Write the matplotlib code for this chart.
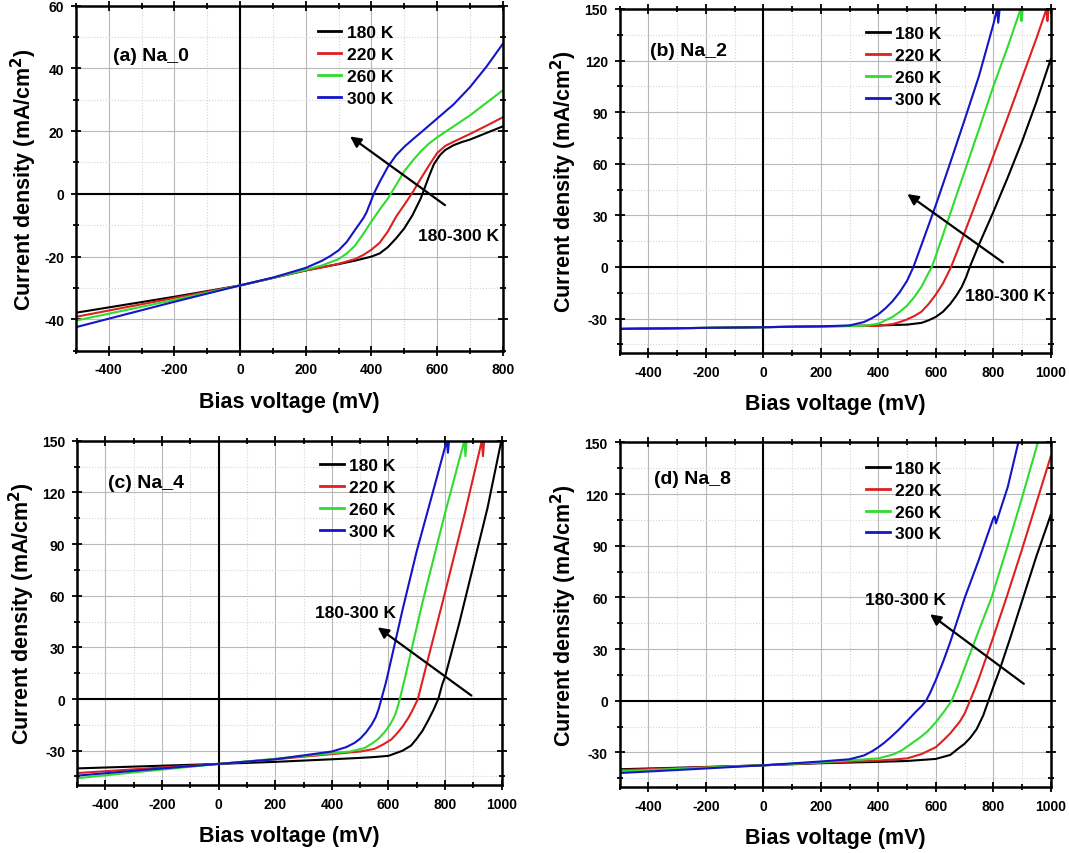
import matplotlib
matplotlib.use("Agg")
import matplotlib.pyplot as plt
from matplotlib.ticker import MultipleLocator

plt.rcParams['font.family'] = ['Liberation Sans', 'DejaVu Sans']
plt.rcParams['font.weight'] = 'bold'
plt.rcParams['axes.labelweight'] = 'bold'
plt.rcParams['axes.unicode_minus'] = False

TEMPS = ['180 K', '220 K', '260 K', '300 K']
COLORS = ['#000000', '#dd2020', '#2fdc2f', '#1414c8']

# ---------------- Panel (a) Na_0 ----------------
A_V_180 = [-500, -400, -300, -200, -100, 0, 100, 200, 250, 300, 350, 400, 425, 450, 475, 500, 525, 550, 575, 590, 600, 610, 625, 650, 675, 700, 750, 800]
A_J_180 = [-37.9, -36.2, -34.5, -32.8, -31.0, -29.2, -26.8, -24.4, -23.4, -22.4, -21.3, -20.0, -19.0, -17.0, -14.2, -11.0, -6.8, -1.5, 5.5, 9.4, 11.0, 12.5, 14.0, 15.5, 16.5, 17.3, 19.4, 21.5]
A_V_220 = [-500, -400, -300, -200, -100, 0, 100, 200, 250, 300, 350, 375, 400, 425, 450, 475, 500, 525, 550, 575, 600, 625, 650, 700, 750, 800]
A_J_220 = [-39.2, -37.2, -35.2, -33.2, -31.2, -29.2, -26.8, -24.4, -23.4, -22.3, -20.8, -19.5, -17.8, -15.6, -12.0, -7.3, -3.5, 0.4, 4.8, 9.0, 13.0, 15.3, 16.6, 19.1, 21.7, 24.4]
A_V_260 = [-500, -400, -300, -200, -100, 0, 100, 200, 250, 300, 325, 350, 375, 400, 425, 450, 475, 500, 525, 550, 575, 600, 650, 700, 750, 800]
A_J_260 = [-40.4, -38.2, -36.0, -33.8, -31.5, -29.2, -26.8, -24.2, -22.8, -20.8, -19.0, -16.5, -12.8, -8.8, -5.0, -1.5, 2.8, 7.2, 10.5, 13.5, 16.0, 18.0, 21.5, 25.0, 29.0, 33.0]
A_V_300 = [-500, -400, -300, -200, -100, 0, 100, 200, 250, 275, 300, 325, 350, 375, 385, 400, 407, 425, 450, 475, 500, 525, 550, 600, 650, 700, 750, 800]
A_J_300 = [-42.5, -39.8, -37.1, -34.4, -31.8, -29.2, -26.7, -23.6, -21.3, -19.8, -18.0, -15.3, -11.5, -7.8, -5.9, -1.9, 0.0, 3.8, 8.6, 12.3, 15.0, 17.3, 19.5, 24.0, 28.5, 34.0, 40.5, 47.8]

# ---------------- Panel (b) Na_2 ----------------
B_V_180 = [-500, -250, 0, 200, 400, 500, 550, 575, 600, 625, 650, 670, 690, 705, 718, 750, 800, 850, 900, 950, 1000]
B_J_180 = [-36.0, -35.5, -35.0, -34.5, -34.0, -33.5, -32.5, -31.0, -29.0, -26.0, -21.5, -17.0, -11.6, -6.0, 0.0, 13.0, 32.0, 52.0, 73.0, 96.0, 121.0]
B_V_220 = [-500, -250, 0, 200, 400, 450, 475, 500, 525, 550, 575, 600, 625, 653, 700, 750, 800, 850, 900, 950, 985, 988, 992, 1000]
B_J_220 = [-36.0, -35.5, -35.0, -34.5, -34.2, -33.2, -32.0, -30.5, -28.5, -26.0, -21.5, -16.0, -9.5, 0.0, 20.0, 42.0, 64.5, 87.0, 110.0, 133.0, 150.0, 143.0, 150.0, 155.0]
B_V_260 = [-500, -250, 0, 200, 350, 400, 425, 450, 475, 500, 525, 550, 570, 586, 600, 650, 700, 750, 800, 850, 895, 898, 902, 910]
B_J_260 = [-36.0, -35.5, -35.0, -34.5, -34.2, -33.0, -31.0, -29.0, -26.0, -22.5, -17.5, -11.5, -5.0, 0.0, 6.5, 31.0, 55.5, 80.0, 105.0, 128.0, 150.0, 143.0, 150.0, 155.0]
B_V_300 = [-500, -250, 0, 200, 300, 350, 375, 400, 425, 450, 475, 500, 522, 550, 600, 650, 700, 750, 800, 813, 817, 822, 830]
B_J_300 = [-36.0, -35.5, -35.0, -34.5, -34.0, -32.0, -30.0, -27.5, -24.0, -19.8, -14.5, -8.0, 0.0, 12.8, 36.0, 60.5, 85.5, 111.0, 141.0, 150.0, 142.0, 150.0, 155.0]

# ---------------- Panel (c) Na_4 ----------------
C_V_180 = [-500, -250, 0, 200, 400, 500, 550, 600, 650, 680, 700, 720, 740, 760, 776, 790, 800, 850, 900, 950, 1000]
C_J_180 = [-40.3, -39.0, -37.7, -36.5, -35.0, -34.2, -33.7, -33.0, -30.0, -27.0, -23.0, -18.5, -12.5, -6.0, 0.0, 8.5, 13.0, 44.0, 77.5, 111.0, 151.0]
C_V_220 = [-500, -250, 0, 200, 400, 500, 550, 580, 610, 630, 650, 670, 685, 704, 720, 730, 797, 870, 930, 934, 938, 945]
C_J_220 = [-43.0, -40.3, -37.7, -35.0, -32.0, -30.5, -29.0, -26.5, -23.5, -20.0, -16.0, -11.0, -6.5, 0.0, 10.5, 17.0, 60.0, 108.0, 150.0, 141.0, 150.0, 160.0]
C_V_260 = [-500, -250, 0, 200, 400, 465, 515, 545, 565, 585, 605, 620, 630, 640, 655, 665, 720, 800, 868, 872, 876, 880]
C_J_260 = [-46.0, -41.8, -37.7, -34.7, -31.5, -30.5, -28.5, -25.5, -23.0, -19.5, -15.0, -10.5, -6.0, 0.0, 10.0, 17.0, 56.0, 108.0, 150.0, 141.0, 150.0, 160.0]
C_V_300 = [-500, -250, 0, 200, 400, 450, 480, 500, 520, 540, 555, 565, 575, 590, 600, 650, 700, 750, 806, 810, 814, 820]
C_J_300 = [-44.5, -41.0, -37.7, -35.0, -30.5, -28.0, -25.5, -23.0, -19.5, -15.0, -10.5, -6.0, 0.0, 9.0, 16.0, 52.0, 86.0, 116.0, 150.0, 143.0, 150.0, 160.0]

# ---------------- Panel (d) Na_8 ----------------
D_V_180 = [-500, -250, 0, 200, 400, 500, 600, 650, 684, 700, 720, 742, 765, 783, 800, 820, 860, 904, 950, 1000]
D_J_180 = [-39.8, -38.7, -37.5, -36.3, -35.5, -35.0, -33.8, -31.5, -27.0, -25.0, -21.5, -16.5, -8.5, 0.0, 8.0, 17.0, 37.0, 60.0, 84.0, 108.0]
D_V_220 = [-500, -250, 0, 200, 400, 500, 550, 600, 626, 650, 684, 700, 719, 735, 750, 800, 846, 900, 950, 1000]
D_J_220 = [-40.3, -38.9, -37.5, -36.0, -34.8, -33.5, -31.0, -27.0, -23.0, -19.0, -12.0, -7.5, 0.0, 6.5, 13.0, 37.0, 60.0, 88.0, 115.0, 142.0]
D_V_260 = [-500, -250, 0, 200, 400, 450, 480, 510, 540, 570, 600, 630, 655, 680, 700, 750, 794, 850, 900, 955]
D_J_260 = [-41.0, -39.2, -37.5, -35.8, -33.5, -31.3, -29.0, -25.5, -22.0, -18.0, -12.5, -6.0, 0.0, 10.0, 19.0, 41.0, 60.0, 90.0, 118.0, 150.0]
D_V_300 = [-500, -250, 0, 200, 300, 350, 380, 400, 420, 441, 470, 499, 530, 550, 566, 580, 600, 625, 650, 701, 750, 800, 805, 809, 815, 850, 887]
D_J_300 = [-42.0, -39.8, -37.5, -35.3, -34.0, -31.8, -29.2, -27.0, -24.5, -21.5, -17.0, -12.0, -6.5, -3.2, 0.0, 4.5, 12.0, 22.5, 34.0, 60.0, 82.0, 106.0, 107.0, 103.0, 106.0, 124.0, 150.0]

PANELS = [
    dict(rect=[0.0711, 0.5882, 0.3992, 0.4040], xlim=(-500, 800), ylim=(-50, 60),
         xmaj=200, xmin=100, ymaj=20, ymin=10,
         series=[(A_V_180, A_J_180), (A_V_220, A_J_220), (A_V_260, A_J_260), (A_V_300, A_J_300)],
         label='(a) Na_0', label_xy=(-386, 44.2),
         arrow_tail=(624, -3.6), arrow_head=(335, 18.3), note_xy=(665, -13.4),
         leg_anchor=(0.567, 0.943)),
    dict(rect=[0.5796, 0.5855, 0.4034, 0.4028], xlim=(-500, 1000), ylim=(-50, 150),
         xmaj=200, xmin=100, ymaj=30, ymin=15,
         series=[(B_V_180, B_J_180), (B_V_220, B_J_220), (B_V_260, B_J_260), (B_V_300, B_J_300)],
         label='(b) Na_2', label_xy=(-393, 125.8),
         arrow_tail=(833, 2.7), arrow_head=(501, 42.4), note_xy=(843, -16.7),
         leg_anchor=(0.572, 0.950)),
    dict(rect=[0.0722, 0.0795, 0.3971, 0.4033], xlim=(-500, 1000), ylim=(-50, 150),
         xmaj=200, xmin=100, ymaj=30, ymin=15,
         series=[(C_V_180, C_J_180), (C_V_220, C_J_220), (C_V_260, C_J_260), (C_V_300, C_J_300)],
         label='(c) Na_4', label_xy=(-390, 125.8),
         arrow_tail=(893, 2.0), arrow_head=(562, 41.6), note_xy=(485, 50.3),
         leg_anchor=(0.573, 0.949)),
    dict(rect=[0.5796, 0.0775, 0.4034, 0.4033], xlim=(-500, 1000), ylim=(-50, 150),
         xmaj=200, xmin=100, ymaj=30, ymin=15,
         series=[(D_V_180, D_J_180), (D_V_220, D_J_220), (D_V_260, D_J_260), (D_V_300, D_J_300)],
         label='(d) Na_8', label_xy=(-380, 129.0),
         arrow_tail=(906, 9.8), arrow_head=(580, 50.2), note_xy=(495, 59.0),
         leg_anchor=(0.572, 0.946)),
]

fig = plt.figure(figsize=(10.69, 8.54), dpi=100)

for p in PANELS:
    ax = fig.add_axes(p['rect'])
    ax.set_xlim(*p['xlim'])
    ax.set_ylim(*p['ylim'])
    ax.xaxis.set_major_locator(MultipleLocator(p['xmaj']))
    ax.xaxis.set_minor_locator(MultipleLocator(p['xmin']))
    ax.yaxis.set_major_locator(MultipleLocator(p['ymaj']))
    ax.yaxis.set_minor_locator(MultipleLocator(p['ymin']))
    ax.grid(which='major', color='#b8b8b8', lw=0.8, ls='-', zorder=0)
    ax.grid(which='minor', color='#d4d4d4', lw=0.8, ls=':', zorder=0)
    ax.set_axisbelow(True)
    ax.axhline(0, color='k', lw=1.5, zorder=1)
    ax.axvline(0, color='k', lw=1.5, zorder=1)
    for (v, j), c, t in zip(p['series'], COLORS, TEMPS):
        ax.plot(v, j, color=c, lw=1.5, label=t, zorder=2, solid_joinstyle='round')
    for s in ax.spines.values():
        s.set_linewidth(1.8)
    ax.tick_params(which='both', direction='inout', top=True, right=True,
                   width=1.3, labelsize=10, pad=5)
    ax.tick_params(which='major', length=7)
    ax.tick_params(which='minor', length=4)
    for lab in ax.get_xticklabels() + ax.get_yticklabels():
        lab.set_fontweight('bold')
    ax.set_xlabel('Bias voltage (mV)', fontsize=15.5, labelpad=10.5)
    ax.set_ylabel('Current density (mA/cm$^\\mathbf{2}$)', fontsize=15.5, labelpad=4)
    ax.text(p['label_xy'][0], p['label_xy'][1], p['label'], fontsize=14,
            fontweight='bold', ha='left', va='center')
    ax.annotate('', xy=p['arrow_head'], xytext=p['arrow_tail'],
                arrowprops=dict(arrowstyle='-|>', color='k', lw=1.6,
                                mutation_scale=16, shrinkA=0, shrinkB=0), zorder=4)
    ax.text(p['note_xy'][0], p['note_xy'][1], '180-300 K', fontsize=12.5,
            fontweight='bold', ha='center', va='center')
    leg = ax.legend(loc='upper left', bbox_to_anchor=p['leg_anchor'], frameon=False,
                    fontsize=12.5, handlelength=1.35, handletextpad=0.3,
                    labelspacing=0.38, borderpad=0, borderaxespad=0)
    for line in leg.get_lines():
        line.set_linewidth(2.0)

fig.savefig('out.png', dpi=100)
